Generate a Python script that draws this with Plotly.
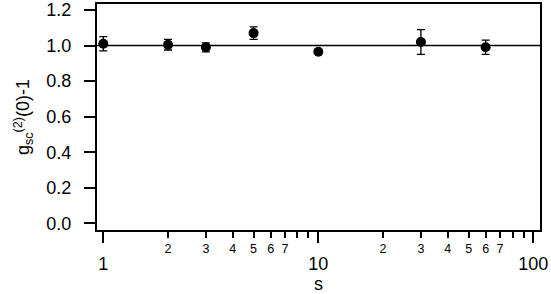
import plotly.graph_objects as go

s_values = [1, 2, 3, 5, 10, 30, 60]
g2_values = [1.01, 1.005, 0.99, 1.07, 0.965, 1.02, 0.99]
g2_errors = [0.04, 0.03, 0.025, 0.035, 0.01, 0.07, 0.04]
y_tick_vals = [0.0, 0.2, 0.4, 0.6, 0.8, 1.0, 1.2]
x_major_vals = [1, 10, 100]
x_major_text = ["1", "10", "100"]
x_minor_vals = [2, 3, 4, 5, 6, 7, 8, 9, 20, 30, 40, 50, 60, 70, 80, 90]
x_minor_label_vals = [2, 3, 4, 5, 6, 7, 20, 30, 40, 50, 60, 70]
x_minor_label_text = ["2", "3", "4", "5", "6", "7", "2", "3", "4", "5", "6", "7"]
reference_level = 1.0

FONT = "Liberation Sans, Arial, sans-serif"
xr = [-0.0293, 2.031]
yr = [-0.0377, 1.2338]

fig = go.Figure()
fig.add_trace(go.Scatter(
    x=s_values, y=g2_values, mode="markers",
    marker=dict(color="black", size=10, symbol="circle"),
    error_y=dict(type="data", array=g2_errors, color="black", thickness=1.3, width=4),
    showlegend=False, xaxis="x", yaxis="y",
))
fig.add_trace(go.Scatter(
    x=[2], y=[None], mode="markers", showlegend=False, hoverinfo="skip",
    xaxis="x2", yaxis="y",
))
fig.add_shape(type="line", xref="paper", yref="y", x0=0, x1=1,
              y0=reference_level, y1=reference_level,
              line=dict(color="black", width=1.5))

fig.update_layout(
    width=551, height=294,
    margin=dict(l=97, r=11, t=4, b=64),
    paper_bgcolor="white", plot_bgcolor="white",
    font=dict(family=FONT, color="black"),
    xaxis=dict(
        type="log", range=xr, tickvals=x_major_vals, ticktext=x_major_text,
        ticks="outside", ticklen=11, tickwidth=1.5, tickcolor="black",
        minor=dict(tickvals=x_minor_vals, ticks="outside", ticklen=6,
                   tickwidth=1.5, tickcolor="black", showgrid=False),
        showline=True, linecolor="black", linewidth=2, mirror=True,
        showgrid=False, zeroline=False, automargin=False,
        tickfont=dict(size=18, family=FONT), ticklabelstandoff=5,
        title=dict(text="s", font=dict(size=18, family=FONT), standoff=7),
    ),
    xaxis2=dict(
        type="log", range=xr, overlaying="x", anchor="y", side="bottom",
        tickvals=x_minor_label_vals, ticktext=x_minor_label_text,
        ticks="outside", ticklen=6, tickwidth=1.5, tickcolor="black",
        showgrid=False, zeroline=False, showline=False, automargin=False,
        tickfont=dict(size=12.5, family=FONT), ticklabelstandoff=1,
    ),
    yaxis=dict(
        range=yr, tickvals=y_tick_vals, tickformat=".1f",
        ticks="outside", ticklen=11, tickwidth=1.5, tickcolor="black",
        showline=True, linecolor="black", linewidth=2, mirror=True,
        showgrid=False, zeroline=False, automargin=False,
        tickfont=dict(size=18, family=FONT), ticklabelstandoff=9,
        title=dict(text="g<sub>sc</sub><sup>(2)</sup>(0)-1",
                   font=dict(size=18, family=FONT), standoff=12),
    ),
)

fig.write_html("out.html", config={"displayModeBar": False},
               post_script="document.body.style.margin='0';")
